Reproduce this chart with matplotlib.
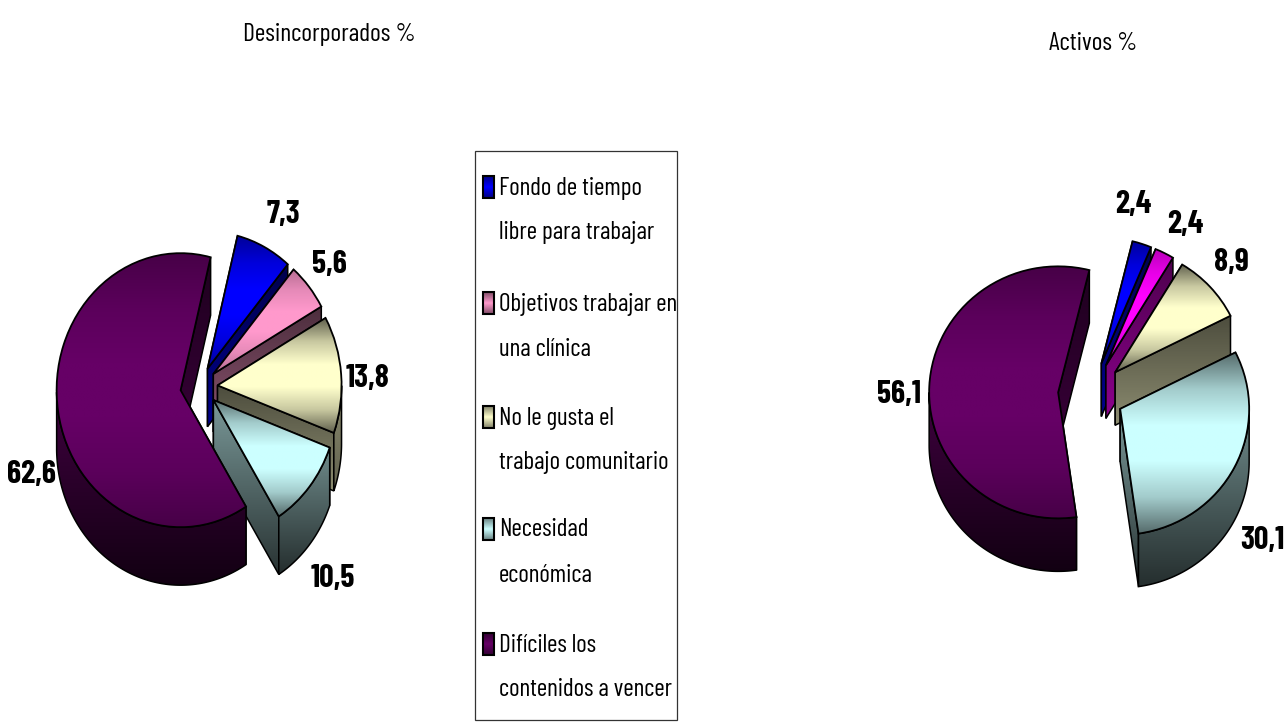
import numpy as np
import matplotlib
matplotlib.use('Agg')
import matplotlib.pyplot as plt
from matplotlib.patches import Polygon, Rectangle

plt.rcParams['font.family'] = ['Barlow Condensed', 'Liberation Sans', 'DejaVu Sans']

# datos
titulo_izq = 'Desincorporados %'
titulo_der = 'Activos %'
valores_izq = [7.3, 5.6, 13.8, 10.5, 62.6]
valores_der = [2.4, 2.4, 8.9, 30.1, 56.1]
leyenda = ['Fondo de tiempo\nlibre para trabajar',
           'Objetivos trabajar en\nuna clínica',
           'No le gusta el\ntrabajo comunitario',
           'Necesidad\neconómica',
           'Difíciles los\ncontenidos a vencer']
colores_izq = ['#0000FF', '#FF99CC', '#FFFFCC', '#CCFFFF', '#660066']
colores_der = ['#0000FF', '#FF00FF', '#FFFFCC', '#CCFFFF', '#660066']

# cuanto se oscurece cada porcion en el borde del degradado
oscuro_cara = [0.6, 0.72, 0.38, 0.42, 0.7]
oscuro_pared = [(0.45, 0.3), (0.45, 0.3), (0.55, 0.38), (0.55, 0.18), (0.62, 0.18)]

W, H = 1287, 723
fig = plt.figure(figsize=(W / 100, H / 100), dpi=100)


def gradiente(ax, patch, color, f, z):
    # rellena el patch con un degradado vertical (f = factores de arriba a abajo)
    ax.add_patch(patch)
    patch.set_facecolor('none')
    patch.set_edgecolor('none')
    verts = patch.get_patch_transform().transform(patch.get_path().vertices)
    x0, x1 = verts[:, 0].min(), verts[:, 0].max()
    y0, y1 = verts[:, 1].min(), verts[:, 1].max()
    t = np.linspace(0, 1, 128)
    fila = np.interp(t, np.linspace(0, 1, len(f)), f)
    rgb = np.array(matplotlib.colors.to_rgb(color))
    img = (fila[:, None] * rgb[None, :])[:, None, :]
    xlim, ylim = ax.get_xlim(), ax.get_ylim()
    arriba = y1 if ylim[1] > ylim[0] else y0
    abajo = y0 if ylim[1] > ylim[0] else y1
    im = ax.imshow(img, extent=(x0, x1, abajo, arriba), aspect='auto',
                   origin='upper', zorder=z, interpolation='bilinear')
    im.set_clip_path(patch)
    ax.set_xlim(xlim)
    ax.set_ylim(ylim)


def pastel(valores, colores, cx, cy, rx, ry, prof, expl, inicio):
    lim = 1.7
    ax = fig.add_axes([(cx - lim * rx) / W, (H - cy - lim * ry) / H,
                       2 * lim * rx / W, 2 * lim * ry / H])
    wedges, _ = ax.pie(valores, explode=[expl] * len(valores), startangle=90 - inicio,
                       counterclock=False, colors=colores)
    ax.set_aspect('auto')
    ax.set_xlim(-lim, lim)
    ax.set_ylim(-lim, lim)
    d = prof / ry

    for i, w in enumerate(wedges):
        z = 10 * (i + 1)
        color = colores[i]
        c = np.array(w.center)
        grados = np.linspace(w.theta1, w.theta2, 240)
        ang = np.radians(grados)
        arco = c + w.r * np.column_stack([np.cos(ang), np.sin(ang)])
        baja = np.array([0, -d])

        # pared radial del inicio (theta2, va debajo de todo)
        cuad = np.array([c, arco[-1], arco[-1] + baja, c + baja])
        oscuro = oscuro_pared[i][0] * 0.7
        gradiente(ax, Polygon(cuad, transform=ax.transData), color, [oscuro, oscuro], z)
        ax.add_patch(Polygon(cuad, fc='none', ec='black', lw=1.1, zorder=z + 1))

        # pared radial del final (theta1)
        reloj = (90 - w.theta1) % 360
        f = [0.3, 0.55] if reloj < 125 else [0.6, 0.2]
        cuad = np.array([c, arco[0], arco[0] + baja, c + baja])
        gradiente(ax, Polygon(cuad, transform=ax.transData), color, f, z + 2)
        ax.add_patch(Polygon(cuad, fc='none', ec='black', lw=1.1, zorder=z + 3))

        # pared exterior, solo la mitad de delante
        frente = ((90 - grados) % 360 >= 90) & ((90 - grados) % 360 <= 270)
        if frente.sum() > 1:
            tramo = arco[frente]
            pared = np.vstack([tramo, (tramo + baja)[::-1]])
            gradiente(ax, Polygon(pared, transform=ax.transData), color, oscuro_pared[i], z + 4)
            ax.add_patch(Polygon(pared, fc='none', ec='black', lw=1.1, zorder=z + 5))

        # cara superior
        borde = np.vstack([c, arco])
        e = oscuro_cara[i]
        gradiente(ax, Polygon(borde, transform=ax.transData), color,
                  [e, e + (1 - e) * 0.65, 1.0, 1.0, e + (1 - e) * 0.65, e], z + 6)
        w.set_facecolor('none')
        w.set_edgecolor('black')
        w.set_linewidth(1.3)
        w.set_zorder(z + 7)
    return ax


pastel(valores_izq, colores_izq, 199, 387, 124, 137, 58, 0.15, 14)
pastel(valores_der, colores_der, 1091, 394, 129, 126, 53, 0.255, 14)

# capa en pixeles para textos y leyenda
over = fig.add_axes([0, 0, 1, 1], zorder=5)
over.set_xlim(0, W)
over.set_ylim(H, 0)
over.axis('off')

over.text(329, 35, titulo_izq, ha='center', va='center', fontsize=18.5)
over.text(1093, 43, titulo_der, ha='center', va='center', fontsize=18.5)


def etiqueta(v):
    return f'{v:.1f}'.replace('.', ',')


pos_izq = [(283, 214), (329, 264), (368, 379), (333, 579), (32, 475)]
pos_der = [(1133, 205), (1185, 224), (1231, 263), (1262, 540), (899, 394)]
for v, (x, y) in zip(valores_izq, pos_izq):
    over.text(x, y, etiqueta(v), ha='center', va='center', fontsize=23, fontweight='bold')
for v, (x, y) in zip(valores_der, pos_der):
    over.text(x, y, etiqueta(v), ha='center', va='center', fontsize=23, fontweight='bold')

# leyenda
over.add_patch(Rectangle((475, 151), 202, 569, fc='white', ec='#333333', lw=0.9, zorder=1))
filas = [187, 303, 417, 529, 644]
for texto, color, y in zip(leyenda, colores_izq, filas):
    cuadro = Rectangle((483, y - 11), 11, 22)
    gradiente(over, cuadro, color, [0.5, 1.0, 0.5], 3)
    over.add_patch(Rectangle((483, y - 11), 11, 22, fc='none', ec='black', lw=1.5, zorder=4))
    lineas = texto.split('\n')
    over.text(499, y + 1, lineas[0], ha='left', va='center', fontsize=18.2, zorder=4)
    over.text(499, y + 46, lineas[1], ha='left', va='center', fontsize=18.2, zorder=4)

plt.savefig('out.png', dpi=100)
